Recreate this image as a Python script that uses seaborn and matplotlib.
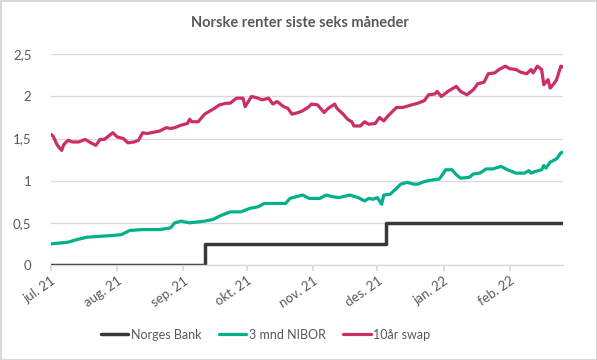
import pandas as pd
import numpy as np
import matplotlib.pyplot as plt
import matplotlib.transforms as mtransforms
import seaborn as sns

# data
nb_dates = ["2021-07-01", "2021-09-11", "2021-12-05", "2022-02-26"]
nb_values = [0, 0.25, 0.5, 0.5]

nibor_dates = [
    "2021-07-01", "2021-07-09", "2021-07-13", "2021-07-18", "2021-07-24", "2021-07-30",
    "2021-08-03", "2021-08-07", "2021-08-13", "2021-08-21", "2021-08-26", "2021-08-28",
    "2021-08-31", "2021-09-04", "2021-09-11", "2021-09-15", "2021-09-18", "2021-09-23",
    "2021-09-28", "2021-10-02", "2021-10-06", "2021-10-09", "2021-10-13", "2021-10-19",
    "2021-10-21", "2021-10-24", "2021-10-27", "2021-10-30", "2021-11-04", "2021-11-07",
    "2021-11-10", "2021-11-13", "2021-11-18", "2021-11-22", "2021-11-25", "2021-11-27",
    "2021-11-29", "2021-12-01", "2021-12-03", "2021-12-04", "2021-12-07", "2021-12-10",
    "2021-12-12", "2021-12-15", "2021-12-18", "2021-12-20", "2021-12-23", "2021-12-25",
    "2021-12-27", "2021-12-30", "2022-01-01", "2022-01-02", "2022-01-05", "2022-01-07",
    "2022-01-09", "2022-01-13", "2022-01-15", "2022-01-18", "2022-01-21", "2022-01-24",
    "2022-01-28", "2022-01-31", "2022-02-04", "2022-02-08", "2022-02-10", "2022-02-11",
    "2022-02-13", "2022-02-16", "2022-02-17", "2022-02-18", "2022-02-20", "2022-02-23",
    "2022-02-25", "2022-02-26",
]
nibor_values = [
    0.25, 0.27, 0.30, 0.33, 0.34, 0.35,
    0.36, 0.41, 0.42, 0.42, 0.44, 0.50,
    0.52, 0.50, 0.52, 0.54, 0.58, 0.63,
    0.63, 0.67, 0.69, 0.73, 0.73, 0.73,
    0.79, 0.81, 0.83, 0.79, 0.79, 0.83,
    0.81, 0.80, 0.83, 0.80, 0.76, 0.79,
    0.78, 0.80, 0.72, 0.83, 0.84, 0.91,
    0.96, 0.98, 0.96, 0.96, 0.99, 1.00,
    1.01, 1.02, 1.09, 1.13, 1.13, 1.07,
    1.03, 1.04, 1.08, 1.09, 1.14, 1.14,
    1.17, 1.13, 1.09, 1.09, 1.12, 1.09,
    1.11, 1.13, 1.18, 1.15, 1.22, 1.26,
    1.33, 1.34,
]

swap_dates = [
    "2021-07-01", "2021-07-02", "2021-07-04", "2021-07-05", "2021-07-06", "2021-07-07",
    "2021-07-09", "2021-07-11", "2021-07-14", "2021-07-17", "2021-07-19", "2021-07-22",
    "2021-07-24", "2021-07-26", "2021-07-28", "2021-07-30", "2021-08-01", "2021-08-04",
    "2021-08-06", "2021-08-09", "2021-08-11", "2021-08-13", "2021-08-15", "2021-08-19",
    "2021-08-21", "2021-08-24", "2021-08-26", "2021-08-28", "2021-08-31", "2021-09-03",
    "2021-09-04", "2021-09-05", "2021-09-08", "2021-09-11", "2021-09-15", "2021-09-18",
    "2021-09-21", "2021-09-23", "2021-09-26", "2021-09-29", "2021-09-30", "2021-10-03",
    "2021-10-06", "2021-10-08", "2021-10-11", "2021-10-13", "2021-10-15", "2021-10-18",
    "2021-10-20", "2021-10-22", "2021-10-25", "2021-10-27", "2021-10-30", "2021-10-31",
    "2021-11-03", "2021-11-06", "2021-11-08", "2021-11-11", "2021-11-12", "2021-11-15",
    "2021-11-17", "2021-11-19", "2021-11-20", "2021-11-23", "2021-11-25", "2021-11-27",
    "2021-11-30", "2021-12-02", "2021-12-04", "2021-12-06", "2021-12-10", "2021-12-13",
    "2021-12-17", "2021-12-20", "2021-12-23", "2021-12-25", "2021-12-28", "2021-12-29",
    "2021-12-31", "2022-01-03", "2022-01-07", "2022-01-09", "2022-01-12", "2022-01-15",
    "2022-01-17", "2022-01-20", "2022-01-22", "2022-01-25", "2022-01-27", "2022-01-30",
    "2022-02-01", "2022-02-04", "2022-02-06", "2022-02-09", "2022-02-11", "2022-02-12",
    "2022-02-14", "2022-02-16", "2022-02-17", "2022-02-19", "2022-02-20", "2022-02-22",
    "2022-02-23", "2022-02-25", "2022-02-26",
]
swap_values = [
    1.55, 1.53, 1.42, 1.39, 1.36, 1.43,
    1.48, 1.46, 1.46, 1.49, 1.46, 1.42,
    1.49, 1.49, 1.53, 1.57, 1.52, 1.50,
    1.45, 1.46, 1.48, 1.57, 1.56, 1.58,
    1.59, 1.63, 1.62, 1.63, 1.66, 1.68,
    1.73, 1.70, 1.70, 1.79, 1.85, 1.90,
    1.92, 1.92, 1.98, 1.98, 1.88, 2.00,
    1.98, 1.96, 1.98, 1.91, 1.94, 1.88,
    1.86, 1.79, 1.81, 1.83, 1.88, 1.91,
    1.90, 1.81, 1.86, 1.91, 1.86, 1.79,
    1.73, 1.70, 1.65, 1.65, 1.70, 1.67,
    1.68, 1.75, 1.71, 1.77, 1.87, 1.87,
    1.90, 1.92, 1.95, 2.02, 2.03, 2.06,
    2.00, 2.06, 2.12, 2.06, 2.02, 2.08,
    2.15, 2.17, 2.27, 2.28, 2.32, 2.36,
    2.33, 2.32, 2.29, 2.27, 2.32, 2.28,
    2.36, 2.32, 2.14, 2.20, 2.10, 2.16,
    2.20, 2.36, 2.35,
]

month_ticks = ["2021-07-01", "2021-08-01", "2021-09-01", "2021-10-01",
               "2021-11-01", "2021-12-01", "2022-01-01", "2022-02-01"]
month_labels = ["jul. 21", "aug. 21", "sep. 21", "okt. 21",
                "nov. 21", "des. 21", "jan. 22", "feb. 22"]
y_ticks = [0, 0.5, 1, 1.5, 2, 2.5]
y_labels = ["0", "0,5", "1", "1,5", "2", "2,5"]

df_nb = pd.DataFrame({"dato": pd.to_datetime(nb_dates), "rente": nb_values})
df_nibor = pd.DataFrame({"dato": pd.to_datetime(nibor_dates), "rente": nibor_values})
df_swap = pd.DataFrame({"dato": pd.to_datetime(swap_dates), "rente": swap_values})

sns.set_theme(style="white")
plt.rcParams["font.family"] = ["Lato", "DejaVu Sans"]

grey_text = "#595959"
fig = plt.figure(figsize=(5.97, 3.6), dpi=100, edgecolor="#d9d9d9", linewidth=2)
ax = fig.add_axes([0.0854, 0.264, 0.8576, 0.585])

sns.lineplot(data=df_nb, x="dato", y="rente", ax=ax, color="#383838",
             linewidth=2.5, drawstyle="steps-post", label="Norges Bank")
sns.lineplot(data=df_nibor, x="dato", y="rente", ax=ax, color="#00b08a",
             linewidth=2.3, label="3 mnd NIBOR")
sns.lineplot(data=df_swap, x="dato", y="rente", ax=ax, color="#cc2d66",
             linewidth=2.3, label="10år swap")

ax.set_xlim(pd.Timestamp("2021-07-01"), pd.Timestamp("2022-02-26"))
ax.set_ylim(0, 2.5)
ax.set_yticks(y_ticks)
ax.set_yticklabels(y_labels, color=grey_text, fontsize=9.5)
ax.set_xticks(pd.to_datetime(month_ticks))
ax.set_xticklabels(month_labels, color=grey_text, fontsize=9.5,
                   rotation=35, ha="right", rotation_mode="anchor")
# nudge rotated labels a bit left, like the original
shift = mtransforms.ScaledTranslation(-5 / 72, 0, fig.dpi_scale_trans)
for lbl in ax.get_xticklabels():
    lbl.set_transform(lbl.get_transform() + shift)
ax.set_xlabel("")
ax.set_ylabel("")

ax.grid(axis="y", color="#d9d9d9", linewidth=0.9)
ax.set_axisbelow(True)
for side in ["left", "right", "top"]:
    ax.spines[side].set_visible(False)
ax.spines["bottom"].set_color("#d9d9d9")
ax.spines["bottom"].set_linewidth(0.9)
ax.tick_params(axis="x", length=4, color="#d9d9d9", pad=3, bottom=True)
ax.tick_params(axis="y", length=0, pad=14)

fig.text(0.503, 0.935, "Norske renter siste seks måneder", ha="center", va="center",
         fontsize=10.5, fontweight="bold", color=grey_text)

ax.legend(loc="center", bbox_to_anchor=(0.445, 0.07), bbox_transform=fig.transFigure,
          ncol=3, frameon=False, fontsize=9, handlelength=2.2, handletextpad=0.2,
          columnspacing=1.4, labelcolor=grey_text)

fig.savefig("out.png", dpi=100)
